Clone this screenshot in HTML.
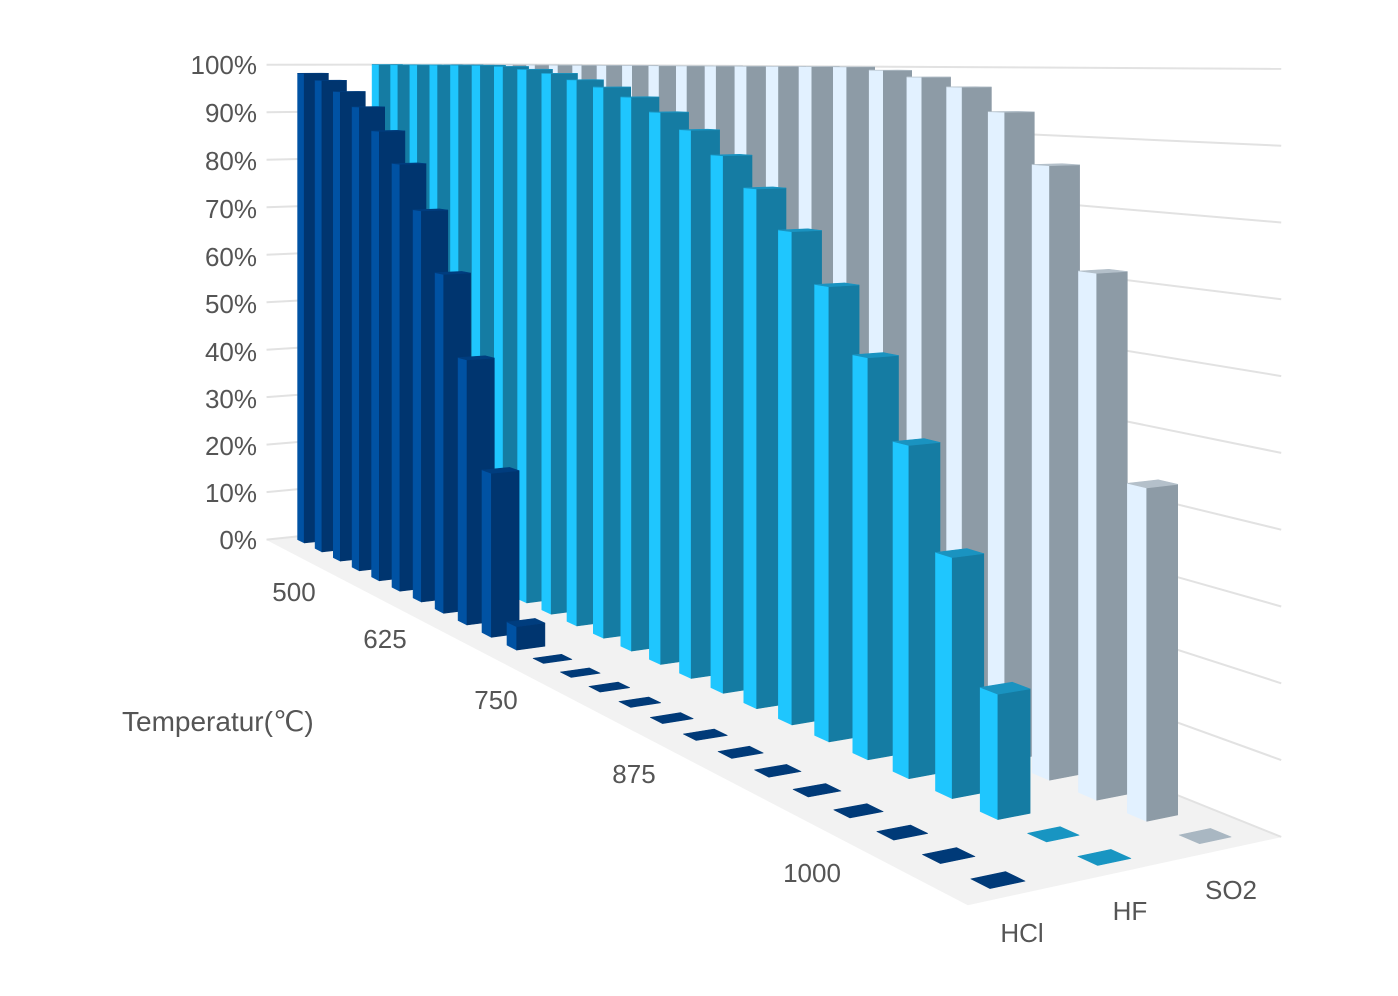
<!DOCTYPE html>
<html><head><meta charset="utf-8"><style>
html,body{margin:0;padding:0;background:#fff;}
svg{display:block;}
text{font-family:"Liberation Sans",Arial,sans-serif;fill:#555;}
</style></head><body>
<svg id="s" width="1398" height="996" viewBox="0 0 1398 996" xmlns="http://www.w3.org/2000/svg">
<g id="walls"></g>
<g id="bars"></g>
<g font-size="26">
<text x="257" y="74" text-anchor="end">100%</text>
<text x="257" y="122" text-anchor="end">90%</text>
<text x="257" y="170" text-anchor="end">80%</text>
<text x="257" y="218" text-anchor="end">70%</text>
<text x="257" y="266" text-anchor="end">60%</text>
<text x="257" y="313" text-anchor="end">50%</text>
<text x="257" y="361" text-anchor="end">40%</text>
<text x="257" y="408" text-anchor="end">30%</text>
<text x="257" y="455" text-anchor="end">20%</text>
<text x="257" y="502" text-anchor="end">10%</text>
<text x="257" y="549" text-anchor="end">0%</text>
<text x="294" y="601" text-anchor="middle">500</text>
<text x="385" y="648" text-anchor="middle">625</text>
<text x="496" y="709" text-anchor="middle">750</text>
<text x="634" y="783" text-anchor="middle">875</text>
<text x="812" y="882" text-anchor="middle">1000</text>
<text x="1022" y="942" text-anchor="middle">HCl</text>
<text x="1130" y="920" text-anchor="middle">HF</text>
<text x="1231" y="899" text-anchor="middle">SO2</text>
<text x="122" y="731" font-size="28">Temperatur(℃)</text>
</g>
</svg>
<script>
(function(){
var NS="http://www.w3.org/2000/svg";
function P(i,j,v){var Z=0.0020747-0.00003731*i+0.0000344*j;var fX=-0.8008+0.05063*i+0.1434*j;return [699+fX/Z,58+(1-0.986*v)/Z];}
function poly(g,pts,fill,stroke,sw){var p=document.createElementNS(NS,"polygon");p.setAttribute("points",pts.map(function(q){return q[0].toFixed(1)+","+q[1].toFixed(1)}).join(" "));p.setAttribute("fill",fill);p.setAttribute("stroke",stroke||fill);p.setAttribute("stroke-width",sw||0.6);p.setAttribute("stroke-linejoin","round");g.appendChild(p);}
function line(g,a,b,c,w){var l=document.createElementNS(NS,"line");l.setAttribute("x1",a[0]);l.setAttribute("y1",a[1]);l.setAttribute("x2",b[0]);l.setAttribute("y2",b[1]);l.setAttribute("stroke",c);l.setAttribute("stroke-width",w);g.appendChild(l);}
var W=document.getElementById("walls");
var i0=-0.5,i1=23.5,j0=-0.5,j1=2.5;
poly(W,[P(i0,j0,0),P(i1,j0,0),P(i1,j1,0),P(i0,j1,0)],"#f2f2f2");
poly(W,[P(i0,j0,0),P(i0,j1,0),P(i0,j1,1),P(i0,j0,1)],"#ffffff");
poly(W,[P(i0,j1,0),P(i1,j1,0),P(i1,j1,1),P(i0,j1,1)],"#ffffff");
for(var k=0;k<=10;k++){var v=k/10;
 line(W,P(i0,j0,v),P(i0,j1,v),"#e2e2e2",2);
 line(W,P(i0,j1,v),P(i1,j1,v),"#e2e2e2",2);}
var data=[
 [0.982,0.968,0.946,0.917,0.872,0.812,0.729,0.619,0.474,0.287,0.04,0,0,0,0,0,0,0,0,0,0,0,0,0],
 [1,1,1,1,1,1,0.998,0.993,0.986,0.975,0.963,0.947,0.923,0.896,0.858,0.81,0.75,0.675,0.581,0.469,0.33,0.167,0,0],
 [1,1,1,1,1,1,1,1,1,1,1,1,1,1,1,1,0.995,0.985,0.971,0.936,0.863,0.72,0.443,0]];
var col=[
 {f:"#00356f",s:"#0052a3",t:"#003d7e",z:"#003a78"},
 {f:"#157ca3",s:"#1fc6fe",t:"#1a93c0",z:"#1895c2"},
 {f:"#8d9ba6",s:"#e2f1ff",t:"#b4c0ca",z:"#a9b7c2"}];
var hw=0.19,hd=0.16;
var list=[];
for(var j=0;j<3;j++)for(var i=0;i<24;i++){var Z=0.0020747-0.00003731*i+0.0000344*j;list.push({i:i,j:j,Z:Z});}
list.sort(function(a,b){return b.Z-a.Z;});
var B=document.getElementById("bars");
list.forEach(function(o){var i=o.i,j=o.j,v=data[j][i],c=col[j];
 var a=i-hw,b=i+hw,p=j-hd,q=j+hd;
 if(v<=0.001){poly(B,[P(a,p,0),P(b,p,0),P(b,q,0),P(a,q,0)],c.z);return;}
 poly(B,[P(a,p,0),P(b,p,0),P(b,p,v),P(a,p,v)],c.s);
 poly(B,[P(b,p,0),P(b,q,0),P(b,q,v),P(b,p,v)],c.f);
 poly(B,[P(a,p,v),P(b,p,v),P(b,q,v),P(a,q,v)],c.t);
});
})();
</script>
</body></html>
